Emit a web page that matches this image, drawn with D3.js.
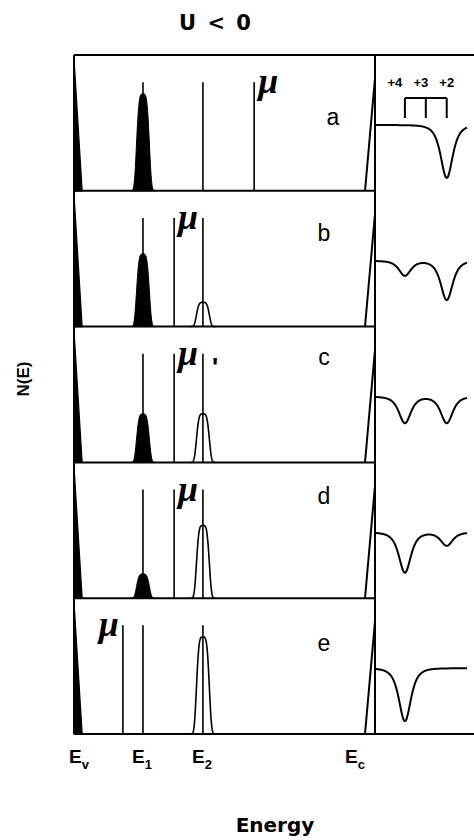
<!DOCTYPE html>
<html>
<head>
<meta charset="utf-8">
<script src="https://cdn.jsdelivr.net/npm/d3@7"></script>
<style>
  html, body { margin: 0; padding: 0; background: #fff; }
  svg { display: block; }
  text { font-family: "Liberation Sans", Arial, sans-serif; fill: #000; }
</style>
</head>
<body>
<svg id="chart" width="474" height="840"></svg>
<script>
// ---- data -------------------------------------------------------------
// Five occupation cases of a negative-U centre
const panels = ["a", "b", "c", "d", "e"];

// Energy axis (Ev = 0, Ec = 1)
const levelNames = ["E", "E", "E", "E"];
const levelSubs = ["v", "1", "2", "c"];
const levelEnergy = [0, 0.237, 0.443, 1.0];

const E1 = 0.237;
const E2 = 0.443;

// Occupation of the E1 level (filled peak) and E2 level (open peak)
const e1Occupation = [1.0, 0.75, 0.5, 0.25, 0.0];
const e2Occupation = [0.0, 0.25, 0.5, 0.75, 1.0];

// Fermi level position for each case
const muEnergy = [0.619, 0.344, 0.344, 0.344, 0.168];

// Absorption spectra (right column): charge states and dip depths
const chargeStates = ["+4", "+3", "+2"];
const chargeShift = [1.43, 2.43, 3.43];
const dipPlus4 = [0.0, 0.28, 0.5, 0.76, 1.0];
const dipPlus3 = [0.0, 0.0, 0.0, 0.0, 0.0];
const dipPlus2 = [1.0, 0.74, 0.5, 0.25, 0.0];

// ---- layout -----------------------------------------------------------
const W = 474, H = 840;
const frameLeft = 74, frameDiv = 375, frameTop = 55, frameBottom = 734;
const panelH = (frameBottom - frameTop) / panels.length;
const letterBaseline = [70, 50, 38, 42, 53];
const muSide = ["right", "right", "right", "right", "left"];

const svg = d3.select("#chart");
svg.append("rect").attr("width", W).attr("height", H).attr("fill", "#fff");

// scales
const xE = d3.scaleLinear().domain([0, 1]).range([frameLeft, 365]);
const yN = d3.scaleLinear().domain([0, 1.4]).range([panelH, 0]);
const xR = d3.scaleLinear().domain([0, 4.4]).range([frameDiv, 467]);
const yA = d3.scaleLinear().domain([0, 1]).range([70, 123]);

// line shapes
const peakShape = d => Math.exp(-Math.pow(Math.abs(d) / 0.024, 4));
const dipShape = d => Math.pow(1 + (d / 0.52) * (d / 0.52), -2);

const levelTop = 1.12;

panels.forEach((p, i) => {
  const g = svg.append("g").attr("transform", `translate(0,${frameTop + i * panelH})`);

  // valence band edge (filled wedge at Ev)
  const vb = [[0, 1.36], [0, 0], [0.028, 0]];
  g.append("path")
    .attr("d", d3.line().x(d => xE(d[0])).y(d => yN(d[1]))(vb) + "Z")
    .attr("fill", "#000").attr("stroke", "#000").attr("stroke-width", 1.2);

  // conduction band edge
  g.append("line")
    .attr("x1", xE(1.0)).attr("y1", yN(0))
    .attr("x2", xE(1.034)).attr("y2", yN(1.15))
    .attr("stroke", "#000").attr("stroke-width", 2);

  // level peaks
  const samples = d3.range(-0.042, 0.0421, 0.001);

  if (e1Occupation[i] > 0) {
    g.append("path")
      .attr("d", d3.area().x(d => xE(E1 + d)).y0(yN(0))
        .y1(d => yN(e1Occupation[i] * peakShape(d)))(samples))
      .attr("fill", "#000").attr("stroke", "#000").attr("stroke-width", 1);
  }
  if (e2Occupation[i] > 0) {
    g.append("path")
      .attr("d", d3.line().x(d => xE(E2 + d))
        .y(d => yN(e2Occupation[i] * peakShape(d)))(samples))
      .attr("fill", "#fff").attr("stroke", "#000").attr("stroke-width", 1.6);
  }

  // level lines E1, E2 and Fermi level
  [E1, E2, muEnergy[i]].forEach(e => {
    g.append("line")
      .attr("x1", xE(e)).attr("x2", xE(e))
      .attr("y1", yN(0)).attr("y2", yN(levelTop))
      .attr("stroke", "#000").attr("stroke-width", 1.6);
  });

  // mu label
  const mx = xE(muEnergy[i]);
  g.append("text")
    .attr("x", muSide[i] === "right" ? mx + 4 : mx - 4)
    .attr("y", yN(levelTop) + 11)
    .attr("text-anchor", muSide[i] === "right" ? "start" : "end")
    .style("font-family", "'Liberation Serif', 'DejaVu Serif', serif")
    .style("font-style", "italic")
    .style("font-weight", "bold")
    .style("font-size", "36px")
    .text("\u03bc");

  if (p === "c") {
    g.append("text")
      .attr("x", xE(E2) + 9).attr("y", yN(levelTop) + 22)
      .style("font-family", "'Liberation Sans', sans-serif")
      .style("font-weight", "bold")
      .style("font-size", "26px")
      .text("'");
  }

  // panel letter
  g.append("text")
    .attr("x", i === 0 ? 333 : 324).attr("y", letterBaseline[i])
    .attr("text-anchor", "middle")
    .style("font-size", "23px")
    .text(p);

  // absorption spectrum in the right column
  const xs = d3.range(0, 4.4001, 0.02);
  const depths = [dipPlus4[i], dipPlus3[i], dipPlus2[i]];
  const spectrum = d3.line()
    .x(d => xR(d))
    .y(d => yA(d3.sum(chargeShift, (s, k) => depths[k] * dipShape(d - s))))
    .curve(d3.curveBasis);
  g.append("path")
    .attr("d", spectrum(xs))
    .attr("fill", "none").attr("stroke", "#000").attr("stroke-width", 2);
});

// charge-state bracket above the first spectrum
const bTop = frameTop + 43, bBottom = frameTop + 63;
svg.append("line")
  .attr("x1", xR(chargeShift[0])).attr("x2", xR(chargeShift[2]))
  .attr("y1", bTop).attr("y2", bTop)
  .attr("stroke", "#000").attr("stroke-width", 2);
const labelDx = [-10, -5, 0];
chargeStates.forEach((c, k) => {
  svg.append("line")
    .attr("x1", xR(chargeShift[k])).attr("x2", xR(chargeShift[k]))
    .attr("y1", bTop).attr("y2", bBottom)
    .attr("stroke", "#000").attr("stroke-width", 2);
  svg.append("text")
    .attr("x", xR(chargeShift[k]) + labelDx[k]).attr("y", frameTop + 32)
    .attr("text-anchor", "middle")
    .style("font-size", "13px").style("font-weight", "bold")
    .text(c);
});

// frame
const frame = svg.append("g").attr("stroke", "#000").attr("stroke-width", 2);
frame.append("line").attr("x1", frameLeft).attr("x2", W).attr("y1", frameTop).attr("y2", frameTop);
frame.append("line").attr("x1", frameLeft).attr("x2", W).attr("y1", frameBottom).attr("y2", frameBottom);
frame.append("line").attr("x1", frameLeft).attr("x2", frameLeft).attr("y1", frameTop).attr("y2", frameBottom);
frame.append("line").attr("x1", frameDiv).attr("x2", frameDiv).attr("y1", frameTop).attr("y2", frameBottom);
d3.range(1, panels.length).forEach(k => {
  const y = frameTop + k * panelH;
  frame.append("line").attr("x1", frameLeft).attr("x2", frameDiv).attr("y1", y).attr("y2", y);
});

// energy level labels
levelEnergy.forEach((e, k) => {
  const t = svg.append("text")
    .attr("x", xE(e) + (k === 0 ? 5 : k === 3 ? -10 : -1))
    .attr("y", 763)
    .attr("text-anchor", "middle")
    .style("font-size", "19px").style("font-weight", "bold");
  t.append("tspan").text(levelNames[k]);
  t.append("tspan").attr("dy", 6).style("font-size", "13px").text(levelSubs[k]);
});

// axis titles
svg.append("text")
  .attr("x", 275).attr("y", 832)
  .attr("text-anchor", "middle")
  .style("font-family", "'DejaVu Sans', sans-serif")
  .style("font-size", "20px").style("font-weight", "bold")
  .text("Energy");

svg.append("text")
  .attr("transform", "translate(29,379) rotate(-90)")
  .attr("text-anchor", "middle")
  .style("font-size", "17px").style("font-weight", "bold")
  .text("N(E)");

svg.append("text")
  .attr("x", 216).attr("y", 30)
  .attr("text-anchor", "middle")
  .style("font-family", "'DejaVu Sans', sans-serif")
  .style("font-size", "21px").style("font-weight", "bold")
  .style("letter-spacing", "2px")
  .text("U < 0");
</script>
</body>
</html>
